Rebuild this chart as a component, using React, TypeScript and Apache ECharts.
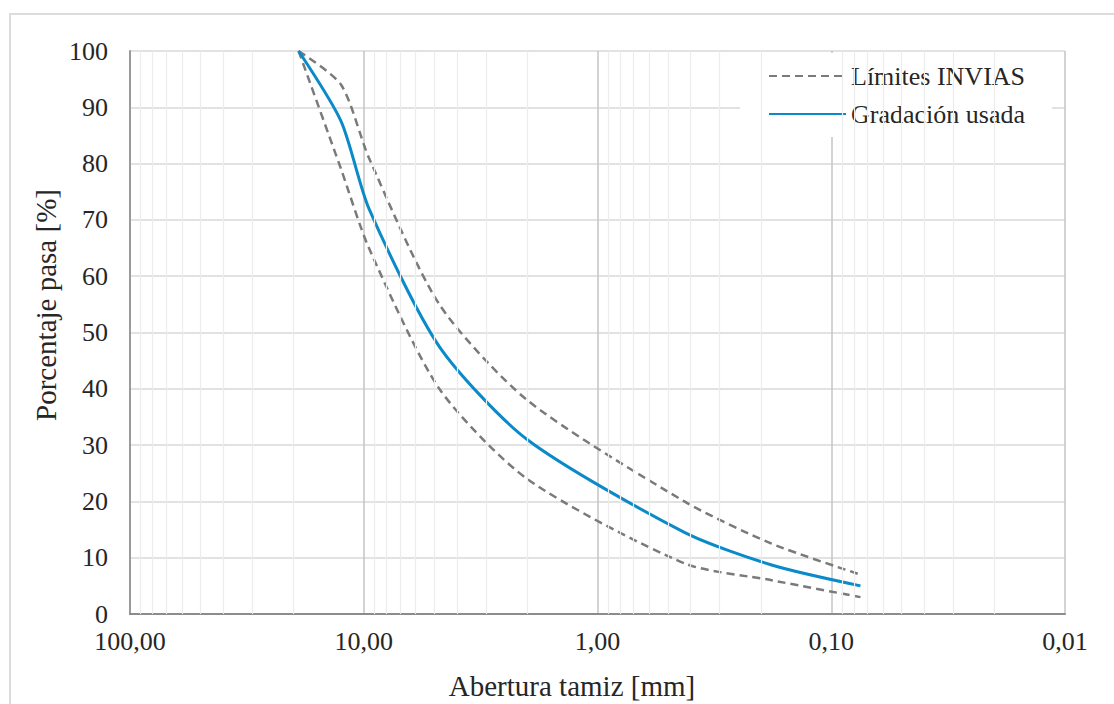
import React, { useEffect, useRef } from "react";
import * as echarts from "echarts";

// Sieve openings [mm]
const SIZES = [19, 12.5, 9.5, 4.75, 2.0, 0.425, 0.18, 0.075];
// INVIAS limits [% passing]
const UPPER = [100, 94, 81, 55, 38, 20, 12.5, 7];
const LOWER = [100, 79, 65, 40, 24, 9, 6, 3];
// Gradation used [% passing]
const USED = [100, 87.5, 72, 47.5, 31, 14.5, 8.7, 5];

const X_TICKS = [100, 10, 1, 0.1, 0.01];
const Y_TICKS = [0, 10, 20, 30, 40, 50, 60, 70, 80, 90, 100];
// minor (2..9) gridlines inside each decade
const MINOR_GRID = [
  90, 80, 70, 60, 50, 40, 30, 20,
  9, 8, 7, 6, 5, 4, 3, 2,
  0.9, 0.8, 0.7, 0.6, 0.5, 0.4, 0.3, 0.2,
  0.09, 0.08, 0.07, 0.06, 0.05, 0.04, 0.03, 0.02,
];

const FONT = "Liberation Serif";
const TXT = "#262626";

const pairs = (ys: number[]) => SIZES.map((s, i) => [s, ys[i]]);

export default function App() {
  const ref = useRef<HTMLDivElement>(null);
  useEffect(() => {
    document.body.style.margin = "0";
    if (!ref.current) return;
    const chart = echarts.init(ref.current, undefined, { renderer: "svg" });
    const dashed = {
      color: "#7a7a7a",
      width: 2.5,
      type: [8, 5] as any,
    };
    chart.setOption({
      animation: false,
      backgroundColor: "#ffffff",
      textStyle: { fontFamily: FONT },
      grid: { left: 130, right: 49, top: 51, bottom: 90, containLabel: false },
      graphic: [
        {
          type: "rect",
          shape: { x: 10, y: 14, width: 1120, height: 700 },
          style: { fill: "none", stroke: "#dcdcdc", lineWidth: 2 },
          silent: true,
          z: -10,
        },
        {
          type: "text",
          x: 572,
          y: 686,
          style: {
            text: "Abertura tamiz [mm]",
            fontFamily: FONT,
            fontSize: 29,
            fill: TXT,
            align: "center",
            verticalAlign: "middle",
          },
        },
        {
          type: "text",
          x: 46,
          y: 305,
          rotation: Math.PI / 2,
          style: {
            text: "Porcentaje pasa [%]",
            fontFamily: FONT,
            fontSize: 29,
            fill: TXT,
            align: "center",
            verticalAlign: "middle",
          },
        },
      ],
      legend: {
        data: ["Límites INVIAS", "Gradación usada"],
        orient: "vertical",
        left: 740,
        top: 53,
        padding: [10, 27, 10, 28],
        itemGap: 12,
        itemWidth: 77,
        itemHeight: 14,
        backgroundColor: "#ffffff",
        itemStyle: { opacity: 0 },
        textStyle: { fontFamily: FONT, fontSize: 26, color: TXT },
        selectedMode: false,
      },
      xAxis: {
        type: "log",
        logBase: 10,
        min: 0.01,
        max: 100,
        inverse: true,
        axisLine: { show: true, lineStyle: { color: "#8c8c8c", width: 2 } },
        axisTick: { show: false },
        axisLabel: {
          fontFamily: FONT,
          fontSize: 26,
          color: TXT,
          margin: 14,
          formatter: (v: number) => {
            const t = X_TICKS.find((x) => Math.abs(Math.log10(x) - Math.log10(v)) < 1e-6);
            return t === undefined ? "" : t.toFixed(2).replace(".", ",");
          },
        },
        splitLine: { show: true, lineStyle: { color: "#c4c4c4", width: 1.5 } },
      },
      yAxis: {
        type: "value",
        min: 0,
        max: 100,
        interval: 10,
        axisLine: { show: true, lineStyle: { color: "#9a9a9a", width: 2 } },
        axisTick: { show: false },
        axisLabel: {
          fontFamily: FONT,
          fontSize: 26,
          color: TXT,
          margin: 22,
          formatter: (v: number) => (Y_TICKS.includes(v) ? String(v) : ""),
        },
        splitLine: { show: true, lineStyle: { color: "#d9d9d9", width: 1.5 } },
      },
      series: [
        {
          name: "minor-grid",
          type: "line",
          data: [],
          z: 1,
          silent: true,
          markLine: {
            silent: true,
            symbol: ["none", "none"],
            label: { show: false },
            lineStyle: { color: "#ececec", width: 1.2, type: "solid" },
            emphasis: { disabled: true },
            data: MINOR_GRID.map((v) => ({ xAxis: v })),
          },
        },
        {
          name: "Límites INVIAS",
          type: "line",
          data: pairs(UPPER),
          symbol: "none",
          smooth: 0.25,
          lineStyle: dashed,
          itemStyle: { color: "#7a7a7a" },
          z: 3,
        },
        {
          name: "Límites INVIAS",
          type: "line",
          data: pairs(LOWER),
          symbol: "none",
          smooth: 0.25,
          lineStyle: dashed,
          itemStyle: { color: "#7a7a7a" },
          z: 3,
        },
        {
          name: "Gradación usada",
          type: "line",
          data: pairs(USED),
          symbol: "none",
          smooth: 0.25,
          lineStyle: { color: "#0a8ac8", width: 3 },
          itemStyle: { color: "#0a8ac8" },
          z: 4,
        },
      ],
    });
    return () => chart.dispose();
  }, []);
  return <div ref={ref} style={{ width: 1114, height: 704 }} />;
}
